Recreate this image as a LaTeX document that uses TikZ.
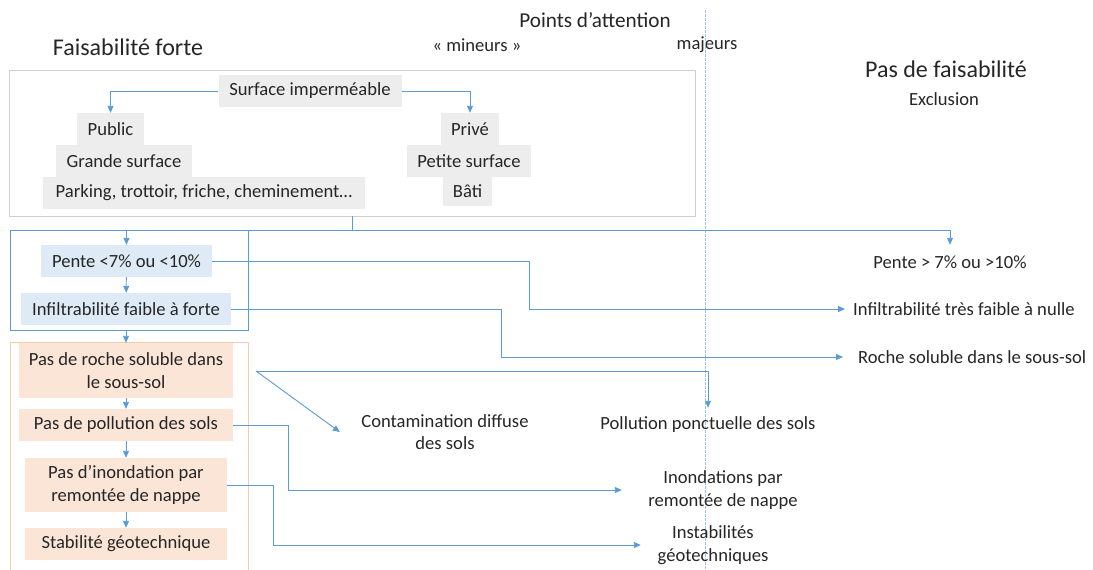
\documentclass[tikz,border=0pt]{standalone}
\usepackage{fontspec}
\setmainfont{Carlito}
\usetikzlibrary{arrows.meta}
\definecolor{linkblue}{HTML}{5B9BD5}
\definecolor{guideblue}{HTML}{9DC3E6}
\definecolor{greyfill}{HTML}{EDEDED}
\definecolor{greyframe}{HTML}{D0CECE}
\definecolor{bluefill}{HTML}{DEEBF7}
\definecolor{orangefill}{HTML}{FBE5D6}
\definecolor{orangeframe}{HTML}{F8CBAD}
\definecolor{ink}{HTML}{262626}
\tikzset{
  every node/.style={text=ink, font=\fontsize{18.6}{22.3}\selectfont},
  title/.style={font=\fontsize{24}{28}\selectfont},
  subtitle/.style={font=\fontsize{21.2}{25}\selectfont},
  box/.style={inner sep=0pt, align=center},
  greybox/.style={box, fill=greyfill},
  bluebox/.style={box, fill=bluefill},
  orangebox/.style={box, fill=orangefill},
  outcome/.style={inner sep=0pt, align=center, minimum height=34pt},
  conn/.style={draw=linkblue, line width=0.9pt, -{Triangle[length=7pt,width=6pt]}},
  link/.style={draw=linkblue, line width=0.9pt},
}
\begin{document}
\begin{tikzpicture}[x=1pt,y=-1pt]
\useasboundingbox (0,0) rectangle (1093,570);

% headings
\node[title] (tforte) at (128,47) {Faisabilité forte};
\node[subtitle] (tattention) at (595,20) {Points d’attention};
\node (tmineurs) at (477,45) {« mineurs »};
\node (tmajeurs) at (707,45) {majeurs};
\node[title] (tpasfais) at (946,69) {Pas de faisabilité};
\node (texclusion) at (944,99) {Exclusion};

% separation between minor and major points
\draw[guideblue, line width=0.9pt, dash pattern=on 2.5pt off 1.5pt] (705,10) -- (705,570);

% surface type block
\node[draw=greyframe, line width=0.9pt, minimum width=686pt, minimum height=146pt, inner sep=0pt] (topbox) at (352.5,143) {};
\node[greybox, minimum width=183pt, minimum height=32pt] (surf) at (310,91) {Surface imperméable};
\node[greybox, minimum width=67pt, minimum height=32pt] (public) at (110.5,129) {Public};
\node[greybox, minimum width=136pt, minimum height=32pt] (grande) at (124,161) {Grande surface};
\node[greybox, minimum width=322pt, minimum height=32pt] (parking) at (204,193) {Parking, trottoir, friche, cheminement…};
\node[greybox, minimum width=58pt, minimum height=32pt] (prive) at (470,129) {Privé};
\node[greybox, minimum width=124pt, minimum height=32pt] (petite) at (469,161) {Petite surface};
\node[greybox, minimum width=49pt, minimum height=29pt] (bati) at (467.5,191.5) {Bâti};
\draw[conn] (surf.west) -| (public.north);
\draw[conn] (surf.east) -| (prive.north);

% slope and infiltration block
\node[draw=linkblue, line width=0.9pt, minimum width=238pt, minimum height=100pt, inner sep=0pt] (blueframe) at (129,280) {};
\node[bluebox, minimum width=171pt, minimum height=32pt] (pente) at (126.5,261) {Pente <7\% ou <10\%};
\node[bluebox, minimum width=210pt, minimum height=32pt] (infil) at (126,309) {Infiltrabilité faible à forte};

% subsoil block
\draw[orangeframe, line width=0.9pt] (10,572) |- (248,342) -- (248,572);
\node[orangebox, minimum width=214pt, minimum height=55pt] (roche) at (126,370.5) {Pas de roche soluble dans\\le sous-sol};
\node[orangebox, minimum width=214pt, minimum height=32pt] (pollu) at (126,425) {Pas de pollution des sols};
\node[orangebox, minimum width=202pt, minimum height=54pt] (inondp) at (126,485) {Pas d’inondation par\\remontée de nappe};
\node[orangebox, minimum width=202pt, minimum height=32pt] (stab) at (126,544) {Stabilité géotechnique};

% outcomes
\node[outcome] (pentegt) at (950,262) {Pente > 7\% ou >10\%};
\node[anchor=west, inner xsep=8pt, inner ysep=0pt] (inftf) at (845,309) {Infiltrabilité très faible à nulle};
\node[anchor=west, inner xsep=15pt, inner ysep=0pt] (rochesol) at (843,357) {Roche soluble dans le sous-sol};
\node[outcome] (ponct) at (708,425) {Pollution ponctuelle des sols};
\node[outcome, minimum width=210pt] (diffuse) at (445,432) {Contamination diffuse\\des sols};
\node[outcome, minimum width=202pt] (inond) at (723,490) {Inondations par\\remontée de nappe};
\node[outcome, minimum width=144pt] (instab) at (713,545) {Instabilités\\géotechniques};

% connectors
\coordinate (split) at (352.5,230);
\coordinate (fork) at (256,371);
\draw[link] (topbox.south) -- (split);
\draw[conn] (split) -| (pente.north);
\draw[conn] (split) -| (pentegt.north);
\draw[conn] (pente) -- (infil);
\draw[conn] (blueframe.south -| roche.north) -- (roche.north);
\draw[conn] (roche) -- (pollu);
\draw[conn] (pollu) -- (inondp);
\draw[conn] (inondp) -- (stab);
\draw[conn] (pente.east) -- ++(317,0) |- (inftf.west);
\draw[conn] (infil.east) -- ++(270,0) |- (rochesol.west);
\draw[conn] (fork) -| (ponct.north);
\draw[conn] (fork) -- (diffuse.west);
\draw[conn] (pollu.east) -- ++(55,0) |- (inond.west);
\draw[conn] (inondp.east) -- ++(46,0) |- (instab.west);
\end{tikzpicture}
\end{document}
